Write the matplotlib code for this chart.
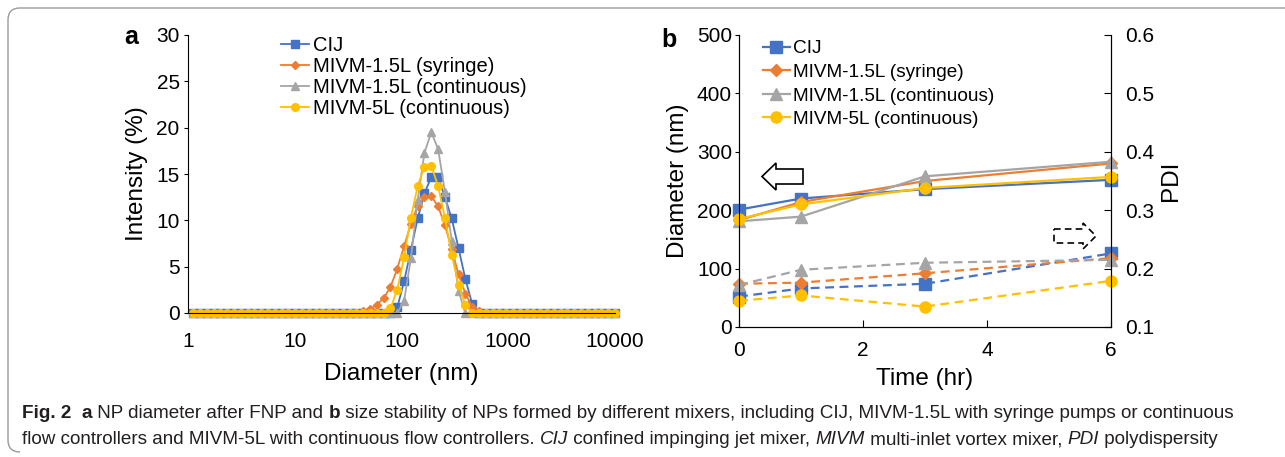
import numpy as np
import matplotlib.pyplot as plt
from matplotlib.path import Path
from matplotlib.patches import PathPatch, Polygon

W, H = 1285, 457

# ---- data: panel a, DLS intensity distribution (Zetasizer size bins, nm)
sizes = [1.117, 1.294, 1.499, 1.736, 2.010, 2.328, 2.696, 3.122, 3.615, 4.187,
         4.849, 5.615, 6.503, 7.531, 8.721, 10.10, 11.70, 13.54, 15.69, 18.17,
         21.04, 24.36, 28.21, 32.67, 37.84, 43.82, 50.75, 58.77, 68.06, 78.82,
         91.28, 105.7, 122.4, 141.8, 164.2, 190.1, 220.2, 255.0, 295.3, 342.0,
         396.1, 458.7, 531.2, 615.1, 712.4, 825.0, 955.4, 1106, 1281, 1484,
         1718, 1990, 2305, 2669, 3091, 3580, 4145, 4801, 5560, 6439, 7456,
         8635, 10000]
# non-zero part of each curve, starting at the 43.82 nm bin
peak_start = 25
cij_peak = [0, 0, 0, 0, 0, 0.6, 3.4, 6.8, 10.2, 12.9, 14.7, 14.7, 12.5, 10.2, 7.0, 3.7, 1.0, 0]
syr_peak = [0.2, 0.4, 0.9, 1.6, 2.8, 4.8, 7.2, 9.6, 11.6, 12.5, 12.6, 11.5, 9.5, 6.9, 4.2, 2.1, 0.7, 0.2]
c15_peak = [0, 0, 0, 0, 0, 0, 1.3, 5.9, 12.2, 17.3, 19.5, 17.7, 13.1, 7.8, 2.4, 0, 0, 0]
c5_peak = [0, 0, 0, 0, 0.5, 2.5, 6.0, 10.3, 13.7, 15.8, 15.9, 13.7, 10.3, 6.3, 3.0, 0.9, 0, 0]

labels = ['CIJ', 'MIVM-1.5L (syringe)', 'MIVM-1.5L (continuous)', 'MIVM-5L (continuous)']
colors = ['#4472C4', '#ED7D31', '#A5A5A5', '#FFC000']
markers = ['s', 'D', '^', 'o']

# ---- data: panel b, stability over time
time_hr = [0, 1, 3, 6]
diam = [[201, 220, 236, 252],
        [183, 214, 250, 280],
        [181, 189, 258, 283],
        [185, 210, 238, 257]]
pdi = [[0.152, 0.166, 0.174, 0.226],
       [0.174, 0.176, 0.192, 0.218],
       [0.172, 0.198, 0.210, 0.215],
       [0.145, 0.154, 0.135, 0.179]]


def full_curve(peak):
    y = [0.0] * len(sizes)
    for i, v in enumerate(peak):
        y[peak_start + i] = v
    return y


def fx(x):
    return x / W


def fy(y):
    return 1 - y / H


plt.rcParams['font.family'] = ['Liberation Sans', 'DejaVu Sans']
fig = plt.figure(figsize=(W / 100, H / 100), dpi=100)

# ---------------- panel a
axa = fig.add_axes([fx(188), fy(313), (615 - 188) / W, (313 - 35) / H])
for lab, c, m, pk in zip(labels, colors, markers, [cij_peak, syr_peak, c15_peak, c5_peak]):
    ms = 5.5 if m != 'D' else 4.5
    axa.plot(sizes, full_curve(pk), color=c, marker=m, ms=ms, lw=1.3,
             label=lab, clip_on=False)
axa.set_xscale('log')
axa.set_xlim(1, 10000)
axa.set_ylim(0, 30)
axa.set_yticks(range(0, 31, 5))
axa.set_xticks([1, 10, 100, 1000, 10000])
axa.set_xticklabels(['1', '10', '100', '1000', '10000'])
axa.minorticks_off()
axa.tick_params(axis='x', length=0, pad=14, labelsize=15)
axa.tick_params(axis='y', direction='out', length=3, pad=3, labelsize=15)
for s in ['top', 'right']:
    axa.spines[s].set_visible(False)
axa.set_xlabel('Diameter (nm)', fontsize=17.5, labelpad=8)
axa.set_ylabel('Intensity (%)', fontsize=17.5, labelpad=6)
axa.legend(loc='upper left', bbox_to_anchor=(fx(281), fy(36)), bbox_transform=fig.transFigure,
           frameon=False, fontsize=14.5, handlelength=1.4, handletextpad=0.2,
           labelspacing=0.1, borderpad=0, borderaxespad=0)

# ---------------- panel b
axb = fig.add_axes([fx(739), fy(327), (1111 - 739) / W, (327 - 35) / H])
axr = axb.twinx()
for i in range(4):
    ms = 8 if markers[i] != 'D' else 6.5
    axb.plot(time_hr, diam[i], color=colors[i], marker=markers[i], ms=ms, lw=1.6,
             label=labels[i], clip_on=False, zorder=3)
    axr.plot(time_hr, pdi[i], color=colors[i], marker=markers[i], ms=ms, lw=1.6,
             ls=(0, (4, 2.5)), clip_on=False)
axb.set_xlim(0, 6)
axb.set_ylim(0, 500)
axr.set_ylim(0.1, 0.6)
axb.set_xticks([0, 2, 4, 6])
axb.set_yticks(range(0, 501, 100))
axr.set_yticks([0.1, 0.2, 0.3, 0.4, 0.5, 0.6])
axr.set_yticklabels(['0.1', '0.2', '0.3', '0.4', '0.5', '0.6'])
axb.tick_params(axis='x', direction='in', length=5, pad=10, labelsize=15)
axb.tick_params(axis='y', direction='out', length=3, pad=2, labelsize=15)
axr.tick_params(axis='y', direction='in', length=5, pad=10, labelsize=15)
axb.spines['top'].set_visible(False)
axr.spines['top'].set_visible(False)
axb.set_xlabel('Time (hr)', fontsize=17.5, labelpad=6)
axb.set_ylabel('Diameter (nm)', fontsize=17.5, labelpad=6)
axr.set_ylabel('PDI', fontsize=17.5, labelpad=4)
axb.legend(loc='upper left', bbox_to_anchor=(fx(763), fy(40)), bbox_transform=fig.transFigure,
           frameon=False, fontsize=13.7, handlelength=1.4, handletextpad=0.2,
           labelspacing=0.33, borderpad=0, borderaxespad=0)

# axis-direction arrows
left_arrow = [(762, 176.5), (776, 163), (776, 169), (803, 169), (803, 184), (776, 184), (776, 190)]
fig.add_artist(Polygon([(fx(x), fy(y)) for x, y in left_arrow], closed=True,
                       transform=fig.transFigure, facecolor='white', edgecolor='black', lw=1.2))
right_arrow = [(1054, 229), (1083, 229), (1083, 223), (1096, 236), (1083, 249), (1083, 243), (1054, 243)]
fig.add_artist(Polygon([(fx(x), fy(y)) for x, y in right_arrow], closed=True,
                       transform=fig.transFigure, facecolor='none', edgecolor='black',
                       lw=1.2, ls=(0, (4, 2.5))))

# panel letters
fig.text(fx(124), fy(37), 'a', fontsize=18, fontweight='bold', va='center')
fig.text(fx(661), fy(40), 'b', fontsize=18, fontweight='bold', va='center')

# frame around figure + caption
verts = [(1300, 8), (20, 8), (8, 8), (8, 20), (8, 440), (8, 452), (20, 452)]
codes = [Path.MOVETO, Path.LINETO, Path.CURVE3, Path.CURVE3, Path.LINETO, Path.CURVE3, Path.CURVE3]
fig.add_artist(PathPatch(Path([(fx(x), fy(y)) for x, y in verts], codes),
                         transform=fig.transFigure, facecolor='none', edgecolor='#9a9a9a', lw=1.0))

line1 = [('Fig. 2', 'bold', 'normal'), ('  ', 'normal', 'normal'), ('a', 'bold', 'normal'),
         (' NP diameter after FNP and ', 'normal', 'normal'), ('b', 'bold', 'normal'),
         (' size stability of NPs formed by different mixers, including CIJ, MIVM-1.5L with syringe pumps or continuous',
          'normal', 'normal')]
line2 = [('flow controllers and MIVM-5L with continuous flow controllers. ', 'normal', 'normal'),
         ('CIJ', 'normal', 'italic'), (' confined impinging jet mixer, ', 'normal', 'normal'),
         ('MIVM', 'normal', 'italic'), (' multi-inlet vortex mixer, ', 'normal', 'normal'),
         ('PDI', 'normal', 'italic'), (' polydispersity', 'normal', 'normal')]
cap_family = ['Liberation Sans']
renderer = fig.canvas.get_renderer()


def draw_line(segs, x0, y0, size):
    x = x0
    arts = []
    for txt, wt, st in segs:
        t = fig.text(fx(x), fy(y0), txt, fontsize=size, fontweight=wt, fontstyle=st,
                     family=cap_family, va='center', ha='left', color='#231f20')
        bb = t.get_window_extent(renderer)
        x += bb.width
        arts.append(t)
    return arts, x - x0


def fit_size(segs, x0, x1):
    arts, wid = draw_line(segs, x0, 0, 13)
    for a in arts:
        a.remove()
    return 13 * (x1 - x0) / wid


# one common size for both caption lines, between the two line fits
cap_size = np.sqrt(fit_size(line1, 22, 1196) * fit_size(line2, 22, 1263))
draw_line(line1, 22, 413, cap_size)
draw_line(line2, 22, 440, cap_size)

fig.savefig('out.png', dpi=100)
